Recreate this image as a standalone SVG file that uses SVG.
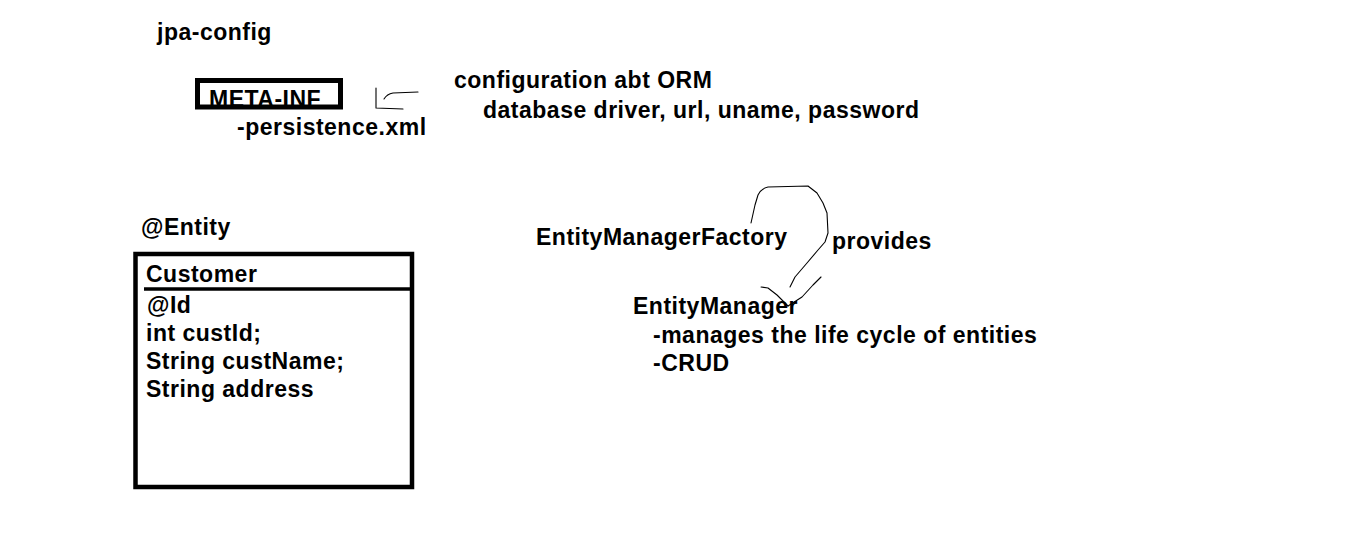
<svg xmlns="http://www.w3.org/2000/svg" width="1349" height="544" viewBox="0 0 1349 544">
<style>
text{font-family:"Liberation Sans",Arial,sans-serif;font-weight:bold;font-size:23px;letter-spacing:0.5px;fill:#000}
.box{fill:none;stroke:#000}
.pen{fill:none;stroke:#000;stroke-width:1.1;stroke-linejoin:round;stroke-linecap:round}
</style>
<rect width="1349" height="544" fill="#fff"/>
<g id="jpa-config"><text x="157" y="40">jpa-config</text></g>
<g id="meta-inf">
<text x="209" y="107">META-INF</text>
<rect class="box" x="197.5" y="80.5" width="143" height="26.5" stroke-width="5"/>
<text x="237" y="135">-persistence.xml</text>
</g>
<g id="orm-config">
<text x="454" y="88">configuration abt ORM</text>
<text x="483" y="118">database driver, url, uname, password</text>
</g>
<g id="entity">
<text x="141" y="235">@Entity</text>
<rect class="box" x="135.5" y="254" width="276.5" height="233" stroke-width="4.5"/>
<line x1="144" y1="289" x2="412" y2="289" stroke="#000" stroke-width="3.5"/>
<text x="146" y="282">Customer</text>
<text x="147" y="313">@Id</text>
<text x="146" y="341">int custId;</text>
<text x="146" y="369">String custName;</text>
<text x="146" y="397">String address</text>
</g>
<g id="emf"><text x="536" y="245">EntityManagerFactory</text></g>
<g id="provides"><text x="832" y="249">provides</text></g>
<g id="em">
<text x="633" y="314">EntityManager</text>
<text x="653" y="343">-manages the life cycle of entities</text>
<text x="653" y="371">-CRUD</text>
</g>
<g id="connectors">
<path class="pen" d="M376,88 L376,108 L403,109"/>
<path class="pen" d="M384,99 Q387,94 393,93 L418,92"/>
<path class="pen" d="M751,223 L755,205 L758,195 Q762,188 768,187 L808,186 L817,193 L823,203 L827,213 L828,233 L825,242 L818,250 L807,263 L795,277 L790,287"/>
<path class="pen" d="M761,287 L768,288 L777,295 L788,306"/>
<path class="pen" d="M821,277 L813,285 L802,297 L788,306"/>
</g>
</svg>
